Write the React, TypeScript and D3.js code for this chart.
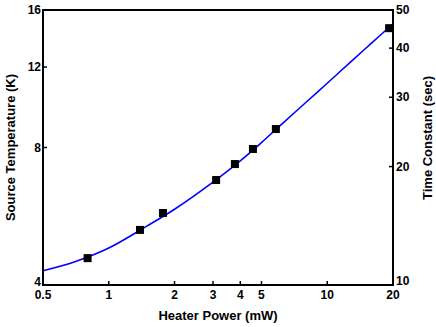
import React, { useEffect, useRef } from "react";
import * as d3 from "d3";

// measured points (heater power mW, source temperature K)
const powerValues = [0.8, 1.39, 1.77, 3.1, 3.78, 4.57, 5.82, 19.2];
const tempValues = [4.58, 5.28, 5.75, 6.79, 7.36, 7.94, 8.78, 14.6];

// fitted curve
const fitPower = [0.5, 0.7, 1, 1.5, 2, 3, 4, 5, 6, 8, 10, 13, 16, 20];
const fitTemp = [4.3, 4.5, 4.82, 5.39, 5.86, 6.72, 7.48, 8.2, 8.88, 10.05, 11.06, 12.4, 13.56, 14.92];

const xTicks = [0.5, 1, 2, 3, 4, 5, 10, 20];
const leftTicks = [4, 8, 12, 16];
const rightTicks = [10, 20, 30, 40, 50];

export default function App() {
  const svgRef = useRef<SVGSVGElement>(null);

  useEffect(() => {
    const svg = d3.select(svgRef.current);
    const width = 436;
    const height = 327;
    const margin = { top: 10, right: 43, bottom: 42, left: 43 };
    const innerWidth = width - margin.left - margin.right;
    const innerHeight = height - margin.top - margin.bottom;
    const font = "'Liberation Sans', Arial, Helvetica, sans-serif";

    svg.selectAll("*").remove();

    const xScale = d3.scaleLog().domain([0.5, 20]).range([0, innerWidth]);
    const yScale = d3.scaleLog().domain([4, 16]).range([innerHeight, 0]);
    const y2Scale = d3.scaleLog().domain([10, 50]).range([innerHeight, 0]);

    const g = svg
      .append("g")
      .attr("transform", `translate(${margin.left},${margin.top})`);

    // fit curve
    const fit = fitPower.map((p, i) => [p, fitTemp[i]]);
    g.append("path")
      .datum(fit)
      .attr("fill", "none")
      .attr("stroke", "#0000ff")
      .attr("stroke-width", 1.6)
      .attr(
        "d",
        d3
          .line<number[]>()
          .x((d) => xScale(d[0]))
          .y((d) => yScale(d[1]))
          .curve(d3.curveCatmullRom),
      );

    // markers
    const size = 8;
    g.selectAll(".pt")
      .data(powerValues.map((p, i) => [p, tempValues[i]]))
      .enter()
      .append("rect")
      .attr("class", "pt")
      .attr("x", (d) => xScale(d[0]) - size / 2)
      .attr("y", (d) => yScale(d[1]) - size / 2)
      .attr("width", size)
      .attr("height", size)
      .attr("fill", "#000");

    // frame
    g.append("rect")
      .attr("width", innerWidth)
      .attr("height", innerHeight)
      .attr("fill", "none")
      .attr("stroke", "#000")
      .attr("stroke-width", 2);

    const tickLen = 4;

    // bottom axis
    const xAxis = g.append("g");
    xTicks.forEach((t) => {
      xAxis
        .append("line")
        .attr("x1", xScale(t))
        .attr("x2", xScale(t))
        .attr("y1", innerHeight)
        .attr("y2", innerHeight - tickLen)
        .attr("stroke", "#000")
        .attr("stroke-width", 1.5);
      xAxis
        .append("text")
        .attr("x", xScale(t))
        .attr("y", innerHeight + 14)
        .attr("text-anchor", "middle")
        .attr("font-family", font)
        .attr("font-weight", "bold")
        .attr("font-size", 12)
        .text(d3.format("")(t));
    });

    // left axis
    const yAxis = g.append("g");
    leftTicks.forEach((t) => {
      yAxis
        .append("line")
        .attr("x1", 0)
        .attr("x2", tickLen)
        .attr("y1", yScale(t))
        .attr("y2", yScale(t))
        .attr("stroke", "#000")
        .attr("stroke-width", 1.5);
      yAxis
        .append("text")
        .attr("x", -2)
        .attr("y", yScale(t) - (t === 4 ? 3 : 0))
        .attr("dy", "0.35em")
        .attr("text-anchor", "end")
        .attr("font-family", font)
        .attr("font-weight", "bold")
        .attr("font-size", 12)
        .text(t);
    });

    // right axis
    const y2Axis = g.append("g");
    rightTicks.forEach((t) => {
      y2Axis
        .append("line")
        .attr("x1", innerWidth)
        .attr("x2", innerWidth - tickLen)
        .attr("y1", y2Scale(t))
        .attr("y2", y2Scale(t))
        .attr("stroke", "#000")
        .attr("stroke-width", 1.5);
      y2Axis
        .append("text")
        .attr("x", innerWidth + 3)
        .attr("y", y2Scale(t) - (t === 10 ? 4 : 0))
        .attr("dy", "0.35em")
        .attr("text-anchor", "start")
        .attr("font-family", font)
        .attr("font-weight", "bold")
        .attr("font-size", 12)
        .text(t);
    });

    // titles
    svg
      .append("text")
      .attr("x", margin.left + innerWidth / 2)
      .attr("y", 320)
      .attr("text-anchor", "middle")
      .attr("font-family", font)
      .attr("font-weight", "bold")
      .attr("font-size", 13)
      .text("Heater Power (mW)");

    svg
      .append("text")
      .attr("transform", `translate(15,${margin.top + innerHeight / 2}) rotate(-90)`)
      .attr("text-anchor", "middle")
      .attr("font-family", font)
      .attr("font-weight", "bold")
      .attr("font-size", 13)
      .text("Source Temperature (K)");

    svg
      .append("text")
      .attr("transform", `translate(432,138) rotate(-90)`)
      .attr("text-anchor", "middle")
      .attr("font-family", font)
      .attr("font-weight", "bold")
      .attr("font-size", 13)
      .text("Time Constant (sec)");
  }, []);

  return (
    <svg
      ref={svgRef}
      width="436"
      height="327"
      style={{ position: "absolute", left: 0, top: 0, background: "#fff" }}
    />
  );
}
